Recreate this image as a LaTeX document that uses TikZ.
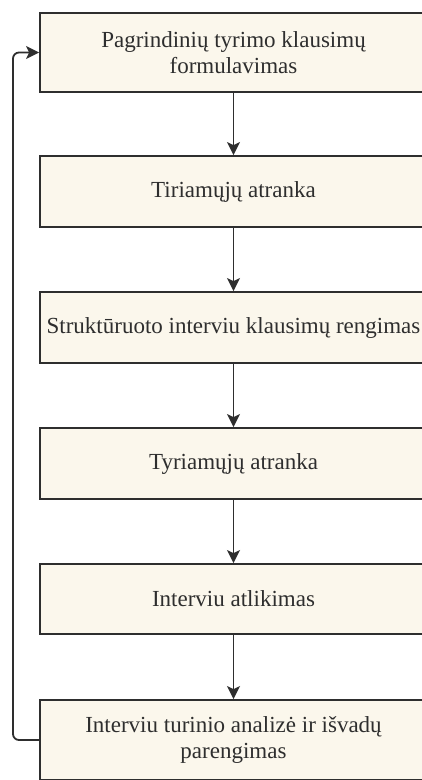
\documentclass[tikz,border=0pt]{standalone}
\usepackage{fontspec}
\setmainfont{Liberation Serif}
\usetikzlibrary{positioning}
\usetikzlibrary{arrows.meta}
\definecolor{boxfill}{HTML}{FBF7EC}
\definecolor{boxline}{HTML}{2E2E2E}
\tikzset{
    mybox/.style = {rectangle, draw=boxline, line width=1.8pt, fill=boxfill, align=center, minimum width=387pt, inner sep=0pt, text=boxline, font=\fontsize{23}{26}\selectfont},
    edgea/.style = {-{Stealth[length=13pt,width=13pt,inset=3pt]}, line width=1.8pt, boxline},
    edgel/.style = {-{Stealth[length=13pt,width=13pt,inset=3pt]}, line width=1.8pt, boxline, rounded corners=6pt}
}
\begin{document}
\begin{tikzpicture}[x=1pt,y=-1pt]
\path[use as bounding box] (0,0) rectangle (421,780);
%
\node[mybox, minimum height=79pt] at (233.5,52.5) (quest) {Pagrindinių tyrimo klausimų\\formulavimas};
\node[mybox, minimum height=71pt] at (233.5,191.5) (sel1) {Tiriamųjų atranka};
\node[mybox, minimum height=71pt] at (233.5,327.5) (prep) {Struktūruoto interviu klausimų rengimas};
\node[mybox, minimum height=71pt] at (233.5,463.5) (sel2) {Tyriamųjų atranka};
\node[mybox, minimum height=70pt] at (233.5,599) (intv) {Interviu atlikimas};
\node[mybox, minimum height=80pt] at (233.5,740) (anal) {Interviu turinio analizė ir išvadų\\parengimas};
%
\draw[edgea] (quest) -- (sel1);
\draw[edgea] (sel1) -- (prep);
\draw[edgea] (prep) -- (sel2);
\draw[edgea] (sel2) -- (intv);
\draw[edgea] (intv) -- (anal);
\draw[edgel] (anal.west) -- (13,740) -- (13,52.5) -- (quest.west);

\end{tikzpicture}
\end{document}
